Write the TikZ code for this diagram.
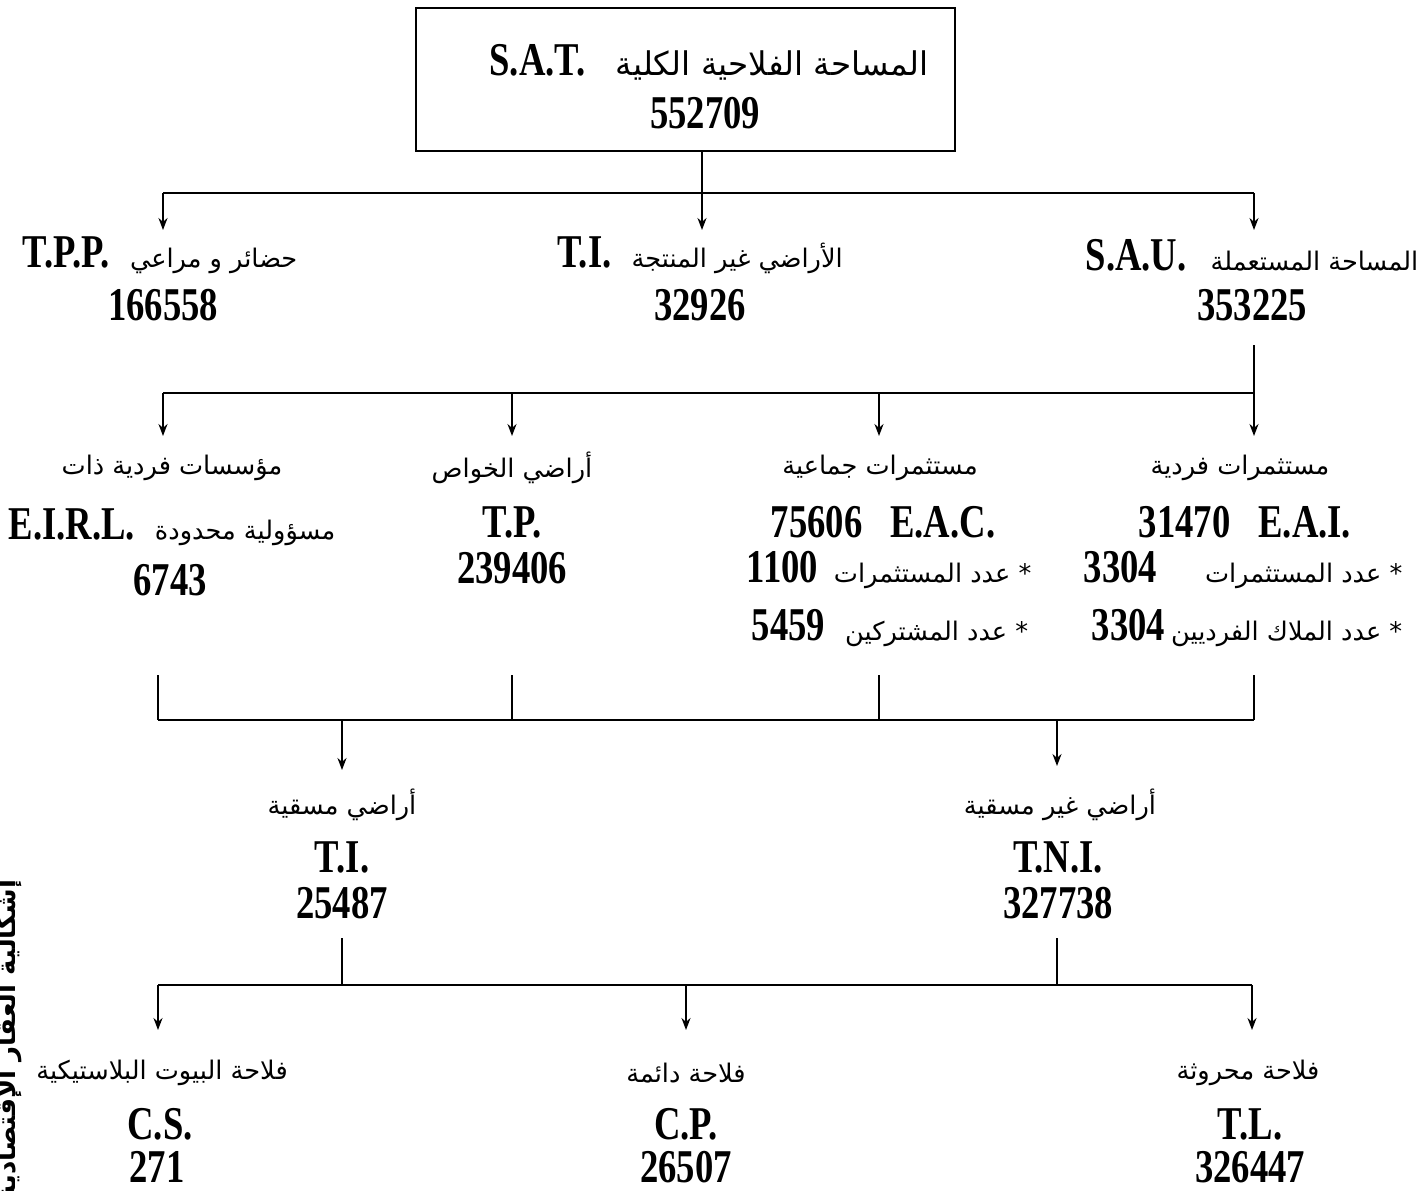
\documentclass[tikz,border=0pt]{standalone}
\usepackage{fontspec}
\setmainfont{Liberation Serif}[FakeStretch=0.78]
\newfontfamily\arabicfont[Script=Arabic]{DejaVu Sans}
\TeXXeTstate=1
\usetikzlibrary{arrows.meta}

% Arabic phrase, right to left
\newcommand\artxt[1]{{\arabicfont\fontsize{12.8}{15}\selectfont\beginR #1\endR}}
% larger Arabic title inside the box
\newcommand\artitle[1]{{\arabicfont\fontsize{16.3}{19}\selectfont\beginR #1\endR}}
% bold Latin code or figure
\newcommand\bnum[1]{{\fontsize{23.5}{27}\selectfont\bfseries #1}}

\tikzset{
  lbl/.style={inner sep=0pt, anchor=center},
  wire/.style={line width=0.9pt},
  arr/.style={wire, -{Stealth[length=6pt,width=4.5pt]}},
}

\begin{document}
\begin{tikzpicture}[x=0.5pt,y=-0.5pt]
\useasboundingbox (0,0) rectangle (1423,1190);

% total area box
\node[draw, line width=0.9pt, minimum width=269.5pt, minimum height=71.5pt, inner sep=0pt] (sat) at (685.5,79.5) {};
\node[lbl] (satA) at (709,62) {\bnum{S.A.T.}\hspace{15pt}\artitle{المساحة الفلاحية الكلية}};
\node[lbl] (satB) at (705,113) {\bnum{552709}};

% first split
\coordinate (a1) at (163,230);
\coordinate (a2) at (702,230);
\coordinate (a3) at (1254,230);
\coordinate (bar1) at (0,193);
\draw[arr] (sat.south -| a2) -- (a2);
\draw[wire] (a1 |- bar1) -- (a3 |- bar1);
\draw[arr] (a1 |- bar1) -- (a1);
\draw[arr] (a3 |- bar1) -- (a3);

\node[lbl] (tppA) at (160,255) {\bnum{T.P.P.}\hspace{10pt}\artxt{حضائر و مراعي}};
\node[lbl] (tppB) at (163,305) {\bnum{166558}};
\node[lbl] (tiA) at (700,255) {\bnum{T.I.}\hspace{10pt}\artxt{الأراضي غير المنتجة}};
\node[lbl] (tiB) at (700,305) {\bnum{32926}};
\node[lbl] (sauA) at (1252,255) {\bnum{S.A.U.}\hspace{12pt}\artxt{المساحة المستعملة}};
\node[lbl] (sauB) at (1252,305) {\bnum{353225}};

% split of the used area
\coordinate (s1) at (1254,345);
\coordinate (bar2) at (0,393);
\coordinate (b1) at (163,436);
\coordinate (b2) at (512,436);
\coordinate (b3) at (879,436);
\coordinate (b4) at (1254,436);
\draw[wire] (s1) -- (s1 |- bar2);
\draw[wire] (b1 |- bar2) -- (b4 |- bar2);
\foreach \c in {b1,b2,b3,b4} \draw[arr] (\c |- bar2) -- (\c);

\node[lbl] (eirlA) at (172,468) {\artxt{مؤسسات فردية ذات}};
\node[lbl] (eirlB) at (172,527) {\bnum{E.I.R.L.}\hspace{10pt}\artxt{مسؤولية محدودة}};
\node[lbl] (eirlC) at (170,580) {\bnum{6743}};

\node[lbl] (tpA) at (512,468) {\artxt{أراضي الخواص}};
\node[lbl] (tpB) at (512,522) {\bnum{T.P.}};
\node[lbl] (tpC) at (512,568) {\bnum{239406}};

\node[lbl] (eacA) at (880,468) {\artxt{مستثمرات جماعية}};
\node[lbl] (eacB) at (883,522) {\bnum{75606\hspace{14pt}E.A.C.}};
\node[lbl] (eacC) at (889,570) {\bnum{1100}\hspace{8pt}\artxt{* عدد المستثمرات}};
\node[lbl] (eacD) at (890,628) {\bnum{5459}\hspace{10pt}\artxt{* عدد المشتركين}};

\node[lbl] (eaiA) at (1240,468) {\artxt{مستثمرات فردية}};
\node[lbl] (eaiB) at (1245,522) {\bnum{31470\hspace{14pt}E.A.I.}};
\node[lbl] (eaiC) at (1243,570) {\bnum{3304}\hspace{24pt}\artxt{* عدد المستثمرات}};
\node[lbl] (eaiD) at (1247,628) {\bnum{3304}\hspace{3pt}\artxt{* عدد الملاك الفرديين}};

% gathering into irrigated / non-irrigated land
\coordinate (bar3) at (0,720);
\coordinate (t1) at (158,675);
\coordinate (t2) at (512,675);
\coordinate (t3) at (879,675);
\coordinate (t4) at (1254,675);
\coordinate (c1) at (342,770);
\coordinate (c2) at (1057,766);
\foreach \c in {t1,t2,t3,t4} \draw[wire] (\c) -- (\c |- bar3);
\draw[wire] (t1 |- bar3) -- (t4 |- bar3);
\draw[arr] (c1 |- bar3) -- (c1);
\draw[arr] (c2 |- bar3) -- (c2);

\node[lbl] (tiiA) at (342,805) {\artxt{أراضي مسقية}};
\node[lbl] (tiiB) at (342,857) {\bnum{T.I.}};
\node[lbl] (tiiC) at (342,903) {\bnum{25487}};
\node[lbl] (tniA) at (1060,805) {\artxt{أراضي غير مسقية}};
\node[lbl] (tniB) at (1058,857) {\bnum{T.N.I.}};
\node[lbl] (tniC) at (1058,903) {\bnum{327738}};

% crop types
\coordinate (u1) at (342,938);
\coordinate (u2) at (1057,938);
\coordinate (bar4) at (0,985);
\coordinate (d1) at (158,1030);
\coordinate (d2) at (686,1030);
\coordinate (d3) at (1252,1030);
\draw[wire] (u1) -- (u1 |- bar4);
\draw[wire] (u2) -- (u2 |- bar4);
\draw[wire] (d1 |- bar4) -- (d3 |- bar4);
\foreach \c in {d1,d2,d3} \draw[arr] (\c |- bar4) -- (\c);

\node[lbl] (csA) at (162,1073) {\artxt{فلاحة البيوت البلاستيكية}};
\node[lbl] (csB) at (160,1124) {\bnum{C.S.}};
\node[lbl] (csC) at (157,1167) {\bnum{271}};
\node[lbl] (cpA) at (686,1073) {\artxt{فلاحة دائمة}};
\node[lbl] (cpB) at (686,1124) {\bnum{C.P.}};
\node[lbl] (cpC) at (686,1167) {\bnum{26507}};
\node[lbl] (tlA) at (1248,1073) {\artxt{فلاحة محروثة}};
\node[lbl] (tlB) at (1250,1124) {\bnum{T.L.}};
\node[lbl] (tlC) at (1250,1167) {\bnum{326447}};

% running title along the left margin, partly beyond the page edge
\node[lbl, rotate=90] (side) at (9,1040) {{\arabicfont\fontsize{13}{15}\selectfont\bfseries\beginR إشكالية العقار الإقتصادية\endR}};
\end{tikzpicture}
\end{document}
